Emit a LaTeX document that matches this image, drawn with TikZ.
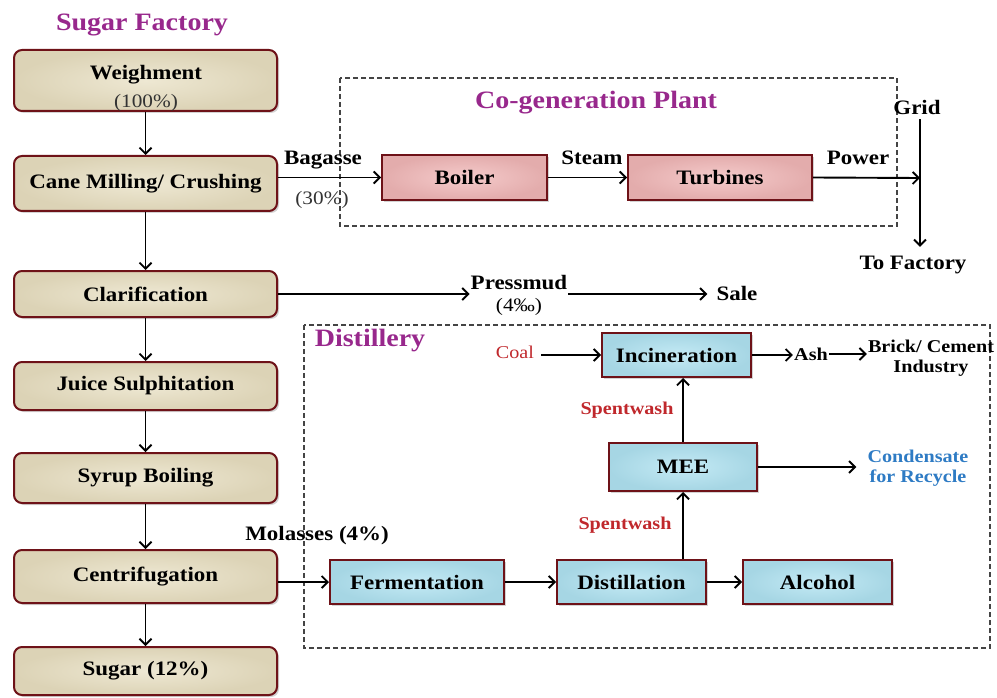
\documentclass[tikz,border=0pt]{standalone}
\usepackage{fontspec}
\setmainfont{Liberation Serif}[FakeStretch=1.12]
\usetikzlibrary{arrows.meta,shadows}
\definecolor{beigefill}{HTML}{EEE8D3}
\definecolor{beigeedge}{HTML}{DCD3B6}
\definecolor{pinkfill}{HTML}{F5CBCB}
\definecolor{pinkedge}{HTML}{E3ACAC}
\definecolor{bluefill}{HTML}{C4EAF5}
\definecolor{blueedge}{HTML}{A6D6E4}
\definecolor{boxborder}{HTML}{6E1218}
\definecolor{titlepurple}{HTML}{98288C}
\definecolor{spentred}{HTML}{C0282C}
\definecolor{condblue}{HTML}{2E7BC4}
\definecolor{dashgray}{HTML}{444444}
\begin{document}
\begin{tikzpicture}[x=1pt,y=-1pt,
  font=\fontsize{20.5}{22}\selectfont\bfseries,
  sbox/.style={draw=boxborder, line width=2pt, inner color=beigefill, outer color=beigeedge,
     rounded corners=8pt, minimum width=263pt, inner sep=0pt,
     drop shadow={shadow xshift=2pt, shadow yshift=-2pt, opacity=0.35}},
  pbox/.style={draw=boxborder, line width=2pt, inner color=pinkfill, outer color=pinkedge,
     inner sep=0pt, minimum height=45pt,
     drop shadow={shadow xshift=2pt, shadow yshift=-2pt, opacity=0.35}},
  bbox/.style={draw=boxborder, line width=2pt, inner color=bluefill, outer color=blueedge,
     inner sep=0pt, minimum height=44pt,
     drop shadow={shadow xshift=2pt, shadow yshift=-2pt, opacity=0.35}},
  arr/.style={line width=1.9pt, -{Straight Barb[length=6pt,width=12pt,line width=1.9pt]}},
  lbl/.style={inner sep=1pt},
  small/.style={font=\fontsize{18}{20}\selectfont\bfseries},
  title/.style={text=titlepurple, font=\fontsize{25}{27}\selectfont\bfseries},
  dbox/.style={draw=dashgray, line width=1.2pt, dash pattern=on 5pt off 3pt}
]
\useasboundingbox (0,0) rectangle (997,698);

% dashed group frames
\draw[dbox] (340,78) rectangle (897,226);
\draw[dbox] (304,325) rectangle (990,648);

% titles
\node[title] (tsugar) at (142,25) {Sugar Factory};
\node[title] (tcogen) at (596,103) {Co-generation Plant};
\node[title] (tdist) at (370,341) {Distillery};

% sugar factory column
\node[sbox, minimum height=61pt] (weigh) at (145.5,80.5) {};
\node (weightxt) at (146,75) {Weighment};
\node[font=\fontsize{19}{20}\selectfont, text=black!80] (weighpct) at (146,103) {(100\%)};
\node[sbox, minimum height=55pt] (mill) at (145.5,183.5) {Cane Milling/ Crushing};
\node[sbox, minimum height=46pt] (clar) at (145.5,294) {Clarification};
\node[sbox, minimum height=48pt] (juice) at (145.5,386) {Juice Sulphitation};
\node[sbox, minimum height=50pt] (syrup) at (145.5,478) {Syrup Boiling};
\node[sbox, minimum height=53pt] (centri) at (145.5,576.5) {Centrifugation};
\node[sbox, minimum height=48pt] (sugar) at (145.5,671) {Sugar (12\%)};

\draw[arr] (weigh.south) -- (mill.north);
\draw[arr] (mill.south) -- (clar.north);
\draw[arr] (clar.south) -- (juice.north);
\draw[arr] (juice.south) -- (syrup.north);
\draw[arr] (syrup.south) -- (centri.north);
\draw[arr] (centri.south) -- (sugar.north);

% co-generation
\node[pbox, minimum width=165pt] (boiler) at (464.5,177.5) {Boiler};
\node[pbox, minimum width=184pt] (turb) at (720,177.5) {Turbines};
\node[lbl] (bag) at (323,160) {Bagasse};
\node[lbl, font=\fontsize{19}{20}\selectfont, text=black!80] (bagpct) at (322,200) {(30\%)};
\node[lbl] (steam) at (592,158) {Steam};
\node[lbl] (power) at (858,158) {Power};
\node[lbl] (grid) at (917,107) {Grid};
\node[lbl] (tofac) at (913,265) {To Factory};
\coordinate (gj) at (920,178);

\draw[arr] (mill.east |- boiler.west) -- (boiler.west);
\draw[arr] (boiler.east) -- (turb.west);
\draw[arr] (turb.east) -- (gj);
\draw[arr, shorten <=4pt, shorten >=8pt] (grid.south -| gj) -- (tofac.north -| gj);

% pressmud
\node[lbl] (press) at (519,283) {Pressmud};
\node[lbl, font=\fontsize{19}{20}\selectfont] (presspct) at (519,307) {(4‰)};
\node[lbl] (sale) at (737,293) {Sale};
\draw[arr] (clar.east) -- (clar.east -| press.west);
\draw[arr, shorten >=8pt] (press.east |- clar.east) -- (sale.west |- clar.east);

% distillery
\node[bbox, minimum width=149pt] (incin) at (676.5,355) {Incineration};
\node[bbox, minimum width=148pt, minimum height=48pt] (mee) at (683,467) {MEE};
\node[bbox, minimum width=174pt] (ferm) at (417,582) {Fermentation};
\node[bbox, minimum width=149pt] (dist) at (631.5,582) {Distillation};
\node[bbox, minimum width=149pt] (alc) at (817.5,582) {Alcohol};

\node[lbl, font=\fontsize{18}{20}\selectfont, text=spentred] (coal) at (515,352) {Coal};
\node[lbl, small] (ash) at (811,354) {Ash};
\node[lbl, small, align=center] (brick) at (931,358) {Brick/ Cement\\Industry};
\node[lbl, small, text=spentred] (sw1) at (627,410) {Spentwash};
\node[lbl, small, text=spentred] (sw2) at (625,525) {Spentwash};
\node[lbl, small, text=condblue, align=center] (cond) at (918,468) {Condensate\\for Recycle};
\node[lbl] (mol) at (317,536) {Molasses (4\%)};

\draw[arr, shorten <=6pt] (coal.east |- incin.west) -- (incin.west);
\draw[arr] (incin.east) -- (incin.east -| ash.west);
\draw[arr] (ash.east) -- (ash.east -| brick.west);
\draw[arr] (mee.north) -- (mee.north |- incin.south);
\draw[arr] (mee.south |- dist.north) -- (mee.south);
\draw[arr, shorten >=10pt] (mee.east) -- (mee.east -| cond.west);
\draw[arr] (ferm.east) -- (dist.west);
\draw[arr] (dist.east) -- (alc.west);
\draw[arr] (centri.east |- ferm.west) -- (ferm.west);
\end{tikzpicture}
\end{document}
